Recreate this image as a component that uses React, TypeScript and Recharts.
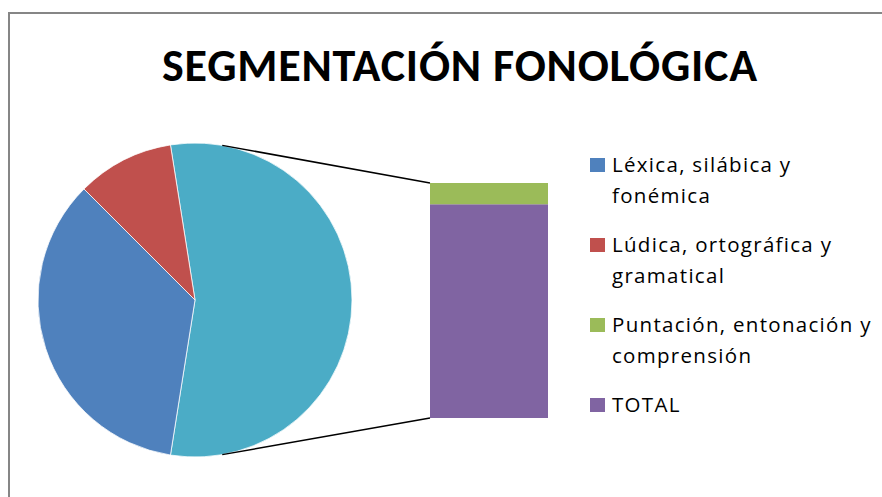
import React from "react";
import { PieChart, Pie, Cell, BarChart, Bar, XAxis, YAxis } from "recharts";

const title = "SEGMENTACIÓN FONOLÓGICA";
const categories = ["Léxica, silábica y fonémica", "Lúdica, ortográfica y gramatical", "Puntación, entonación y comprensión", "TOTAL"];
const values = [7, 2, 1, 10];
const colors = ["#4F81BD", "#C0504D", "#9BBB59", "#8064A2"];
const otherColor = "#4BACC6";
// first two categories stay in the pie, the rest go to the secondary bar
const pieCount = 2;

const W = 882;
const H = 497;
const FONT = "Carlito, Calibri, Lato, 'Open Sans', sans-serif";
const LEGEND_FONT = "'Open Sans', Lato, sans-serif";

const pieCx = 195;
const pieCy = 300;
const pieR = 157;

const barLeft = 430;
const barTop = 183;
const barW = 118;
const barH = 235;

export default function App() {
  const secondary = categories.slice(pieCount).map((c, i) => ({ name: c, value: values[pieCount + i], color: colors[pieCount + i] }));
  const otherValue = secondary.reduce((s, d) => s + d.value, 0);
  const total = values.reduce((s, v) => s + v, 0);
  const pieData = [
    { name: "Otro", value: otherValue, color: otherColor },
    ...categories.slice(0, pieCount).map((c, i) => ({ name: c, value: values[i], color: colors[i] })),
  ];
  const otherSweep = (otherValue / total) * 360;
  const start = otherSweep / 2;

  const barRow: Record<string, number | string> = { name: "b" };
  secondary.forEach((d) => (barRow[d.name] = d.value));
  const stackOrder = [...secondary].reverse();

  // connector start points on pie circle
  const connAngle = (80 * Math.PI) / 180;
  const p1 = { x: pieCx + pieR * Math.cos(connAngle), y: pieCy - pieR * Math.sin(connAngle) };
  const p2 = { x: pieCx + pieR * Math.cos(connAngle), y: pieCy + pieR * Math.sin(connAngle) };

  return (
    <div style={{ position: "fixed", left: 0, top: 0, width: W, height: H, background: "#fff", overflow: "hidden", fontFamily: FONT }}>
      <div style={{ position: "absolute", left: 8, top: 12, width: W, height: H, border: "2px solid #868686", boxSizing: "border-box" }} />
      <div style={{ position: "absolute", left: 0, top: 38, width: 920, textAlign: "center", fontSize: 46, letterSpacing: 0.8, fontWeight: 700, color: "#000", lineHeight: "54px" }}>{title}</div>
      <div style={{ position: "absolute", left: 0, top: 0 }}>
        <PieChart width={W} height={H} margin={{ top: 0, right: 0, bottom: 0, left: 0 }}>
          <Pie data={pieData} dataKey="value" nameKey="name" cx={pieCx} cy={pieCy} outerRadius={pieR} startAngle={start} endAngle={start - 360} stroke="#fff" strokeWidth={0.75} isAnimationActive={false}>
            {pieData.map((d, i) => (
              <Cell key={i} fill={d.color} />
            ))}
          </Pie>
        </PieChart>
      </div>
      <div style={{ position: "absolute", left: barLeft, top: barTop }}>
        <BarChart width={barW} height={barH} data={[barRow]} margin={{ top: 0, right: 0, bottom: 0, left: 0 }} barCategoryGap={0}>
          <XAxis dataKey="name" hide />
          <YAxis hide domain={[0, otherValue]} />
          {stackOrder.map((d) => (
            <Bar key={d.name} dataKey={d.name} stackId="s" fill={d.color} isAnimationActive={false} />
          ))}
        </BarChart>
      </div>
      <svg style={{ position: "absolute", left: 0, top: 0 }} width={W} height={H}>
        <line x1={p1.x} y1={p1.y} x2={barLeft} y2={barTop} stroke="#000" strokeWidth={1.5} />
        <line x1={p2.x} y1={p2.y} x2={barLeft} y2={barTop + barH} stroke="#000" strokeWidth={1.5} />
      </svg>
      {categories.map((c, i) => (
        <div key={c} style={{ position: "absolute", left: 590, top: 149 + i * 80, display: "flex", alignItems: "flex-start" }}>
          <div style={{ width: 15, height: 14, background: colors[i], marginTop: 9, marginRight: 7, flex: "none" }} />
          <div style={{ whiteSpace: "pre", fontFamily: LEGEND_FONT, fontSize: 20.5, letterSpacing: 1.3, lineHeight: "31px", color: "#000" }}>{c.replace(" y ", " y\n")}</div>
        </div>
      ))}
    </div>
  );
}
